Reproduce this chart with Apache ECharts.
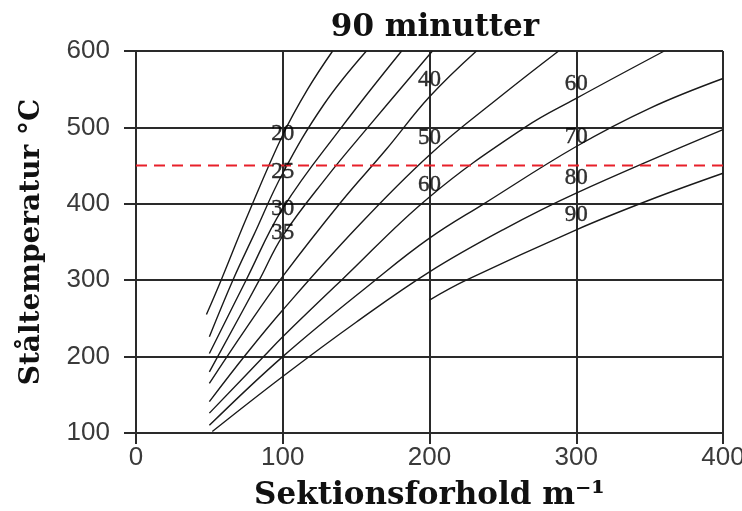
<!DOCTYPE html>
<html>
<head>
<meta charset="utf-8">
<script src="https://cdn.jsdelivr.net/npm/echarts@6/dist/echarts.min.js"></script>
<style>
  html, body { margin: 0; padding: 0; background: #fff; }
  #chart { width: 742px; height: 511px; }
</style>
</head>
<body>
<div id="chart"></div>
<script>
// Steel temperature vs. section factor after 90 minutes, one curve per insulation value
const curveNames = ['20', '25', '30', '35', '40', '50', '60', '70', '80', '90'];

const c20 = [[48, 255], [58, 300], [75, 380], [100, 490], [117, 550], [134, 600]];
const c25 = [[50, 226], [66, 300], [80, 358], [100, 440], [128, 530], [157, 600]];
const c30 = [[50, 204], [75, 300], [100, 394], [140, 500], [181, 600]];
const c35 = [[50, 180], [84, 300], [100, 358], [130, 435], [158, 500], [202, 600]];
const c40 = [[50, 165], [75, 237], [100, 305], [140, 403], [170, 470], [200, 540], [232, 600]];
const c50 = [[50, 141], [75, 203], [100, 261], [150, 368], [200, 464], [250, 543], [288, 600]];
const c60 = [[50, 126], [87, 200], [100, 226], [140, 300], [200, 409], [265, 500], [300, 538], [360, 600]];
const c70 = [[50, 110], [100, 200], [163, 300], [200, 355], [237, 400], [300, 475], [350, 525], [400, 564]];
const c80 = [[52, 102], [100, 174], [150, 245], [200, 311], [250, 366], [300, 414], [400, 497]];
const c90 = [[200, 274], [225, 300], [300, 366], [350, 405], [400, 440]];
const curves = [c20, c25, c30, c35, c40, c50, c60, c70, c80, c90];

// Curve labels written along the 100, 200 and 300 grid lines
const labelTexts = ['20', '25', '30', '35', '40', '50', '60', '60', '70', '80', '90'];
const labelX = [100, 100, 100, 100, 200, 200, 200, 300, 300, 300, 300];
const labelY = [491, 442, 393, 362, 562, 486, 425, 557, 487, 434, 385];

// Critical temperature reference
const limitTemp = 450;
const limitX = [0, 400];

const xTicks = [0, 100, 200, 300, 400];
const yTicks = [100, 200, 300, 400, 500, 600];

const gridColor = '#2a2a2a';
const serifBold = '"DejaVu Serif", "Liberation Serif", serif';
const tickFont = '"Liberation Sans", Arial, sans-serif';

const series = curves.map((pts, i) => ({
  name: curveNames[i],
  type: 'line',
  data: pts,
  smooth: 0.4,
  showSymbol: false,
  silent: true,
  lineStyle: { color: '#1a1a1a', width: 1.4 },
  z: 3
}));

series.push({
  name: 'limit',
  type: 'line',
  data: limitX.map(x => [x, limitTemp]),
  showSymbol: false,
  silent: true,
  lineStyle: { color: '#e8202a', width: 2, type: [11, 7] },
  z: 4
});

series.push({
  name: 'labels',
  type: 'scatter',
  data: labelX.map((x, i) => ({ value: [x, labelY[i]], name: labelTexts[i] })),
  symbolSize: 0,
  silent: true,
  label: {
    show: true,
    position: 'inside',
    formatter: p => p.name,
    fontFamily: '"Liberation Serif", "DejaVu Serif", serif',
    fontSize: 23,
    color: '#000',
    textBorderColor: '#000',
    textBorderWidth: 0.4
  },
  z: 5
});

const chart = echarts.init(document.getElementById('chart'), null, { renderer: 'canvas' });
chart.setOption({
  animation: false,
  backgroundColor: '#fff',
  title: {
    text: '90 minutter',
    left: 430,
    top: 7,
    textAlign: 'center',
    textStyle: { fontFamily: serifBold, fontWeight: 'bold', fontSize: 31, color: '#111' }
  },
  grid: { left: 136, right: 19, top: 51, bottom: 78, containLabel: false, outerBoundsMode: 'none' },
  xAxis: {
    type: 'value',
    min: xTicks[0],
    max: xTicks[xTicks.length - 1],
    interval: 100,
    name: 'Sektionsforhold m⁻¹',
    nameLocation: 'middle',
    nameGap: 47,
    nameTextStyle: { fontFamily: serifBold, fontWeight: 'bold', fontSize: 31, color: '#111' },
    axisLine: { show: true, lineStyle: { color: gridColor, width: 2 } },
    axisTick: { show: true, length: 11, lineStyle: { color: gridColor, width: 2 } },
    axisLabel: { margin: 12, fontFamily: tickFont, fontSize: 26, color: '#3a3a3a' },
    splitLine: { show: true, lineStyle: { color: gridColor, width: 2 } }
  },
  yAxis: {
    type: 'value',
    min: yTicks[0],
    max: yTicks[yTicks.length - 1],
    interval: 100,
    name: 'Ståltemperatur °C',
    nameLocation: 'middle',
    nameGap: 90,
    nameTextStyle: { fontFamily: serifBold, fontWeight: 'bold', fontSize: 28, color: '#111' },
    axisLine: { show: true, lineStyle: { color: gridColor, width: 2 } },
    axisTick: { show: true, length: 12, lineStyle: { color: gridColor, width: 2 } },
    axisLabel: { margin: 26, fontFamily: tickFont, fontSize: 26, color: '#3a3a3a' },
    splitLine: { show: true, lineStyle: { color: gridColor, width: 2 } }
  },
  series: series
});
</script>
</body>
</html>
